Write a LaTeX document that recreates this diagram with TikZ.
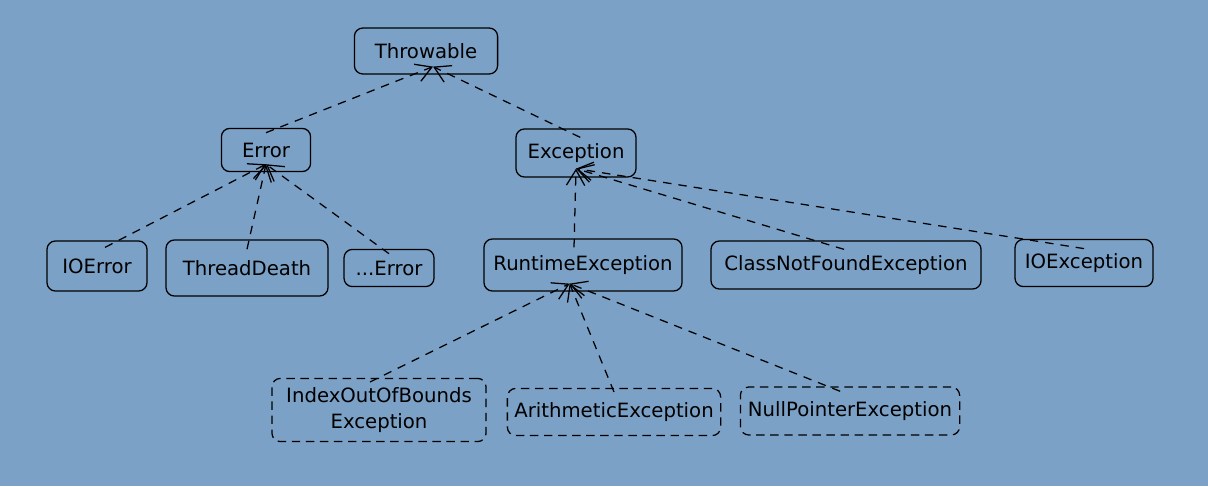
\documentclass[tikz,border=0pt]{standalone}
\usepackage{fontspec}
\setmainfont{DejaVu Sans}
\usetikzlibrary{arrows.meta}
\definecolor{bgblue}{RGB}{123,161,198}

\begin{document}
\begin{tikzpicture}[x=0.025cm, y=-0.025cm,
    cls/.style={draw, line width=0.9pt, rounded corners=6pt, align=center,
        font=\fontsize{14}{18}\selectfont, inner sep=2pt},
    clsdashed/.style={cls, dash pattern=on 6pt off 4pt},
    inherit/.style={draw, line width=0.9pt, dash pattern=on 6pt off 5pt,
        -{Straight Barb[length=11pt,width=13pt]}}]

    % --- Background ---
    \fill[bgblue] (0,0) rectangle (1208,486);

    % --- Root ---
    \node[cls, minimum width=3.58cm, minimum height=1.15cm] (thr) at (426,51) {Throwable};

    % --- Second level ---
    \node[cls, minimum width=2.23cm, minimum height=1.08cm] (err) at (266,150) {Error};
    \node[cls, minimum width=3.0cm, minimum height=1.2cm] (exc) at (576,153) {Exception};

    % --- Errors ---
    \node[cls, minimum width=2.5cm, minimum height=1.25cm] (ioerr) at (97,266) {IOError};
    \node[cls, minimum width=4.05cm, minimum height=1.4cm] (death) at (247,268) {ThreadDeath};
    \node[cls, minimum width=2.25cm, minimum height=0.93cm] (moreerr) at (389,268) {...Error};

    % --- Exceptions ---
    \node[cls, minimum width=4.95cm, minimum height=1.3cm] (rte) at (583,265) {RuntimeException};
    \node[cls, minimum width=6.75cm, minimum height=1.2cm] (cnf) at (846,265) {ClassNotFoundException};
    \node[cls, minimum width=3.45cm, minimum height=1.18cm] (ioexc) at (1084,263) {IOException};

    % --- Runtime exceptions (dashed) ---
    \node[clsdashed, minimum width=5.35cm, minimum height=1.58cm] (ioob) at (379,410) {IndexOutOfBounds\\Exception};
    \node[clsdashed, minimum width=5.33cm, minimum height=1.18cm] (arith) at (614,412) {ArithmeticException};
    \node[clsdashed, minimum width=5.48cm, minimum height=1.2cm] (npe) at (850,411) {NullPointerException};

    % --- Inheritance arrows (child -> parent) ---
    \draw[inherit] ([yshift=-3.5pt]err.north) -- ([xshift=5pt,yshift=5.7pt]thr.south);
    \draw[inherit] ([xshift=3pt,yshift=-6.4pt]exc.north) -- ([xshift=5pt,yshift=5.7pt]thr.south);

    \draw[inherit] ([xshift=5.7pt,yshift=-5pt]ioerr.north) -- ([yshift=5.7pt]err.south);
    \draw[inherit] ([yshift=-7pt]death.north) -- ([yshift=5.7pt]err.south);
    \draw[inherit] ([yshift=-3.5pt]moreerr.north) -- ([yshift=5.7pt]err.south);

    \draw[inherit] ([xshift=-6.4pt,yshift=-6.4pt]rte.north) -- ([yshift=6.4pt]exc.south);
    \draw[inherit] ([xshift=-1.4pt,yshift=-6.4pt]cnf.north) -- ([yshift=6.4pt]exc.south);
    \draw[inherit] ([yshift=-7pt]ioexc.north) -- ([yshift=6.4pt]exc.south);

    \draw[inherit] ([xshift=-6.4pt,yshift=-3pt]ioob.north) -- ([xshift=-9.5pt,yshift=5.7pt]rte.south);
    \draw[inherit] ([yshift=-3pt]arith.north) -- ([xshift=-9.5pt,yshift=5.7pt]rte.south);
    \draw[inherit] ([xshift=-7pt,yshift=-3.5pt]npe.north) -- ([xshift=-9.5pt,yshift=5.7pt]rte.south);

\end{tikzpicture}
\end{document}
